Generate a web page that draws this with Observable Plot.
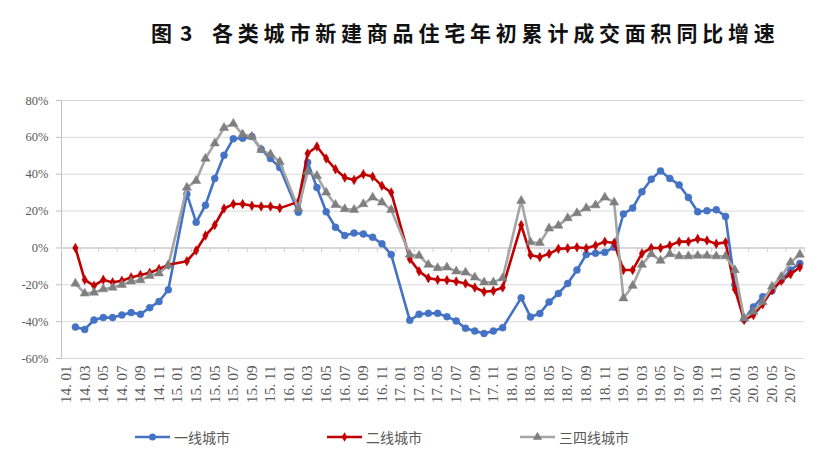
<!DOCTYPE html>
<html>
<head>
<meta charset="utf-8">
<script src="https://cdn.jsdelivr.net/npm/d3@7"></script>
<script src="https://cdn.jsdelivr.net/npm/@observablehq/plot@0.6"></script>
<style>
  html, body { margin: 0; padding: 0; background: #fff; }
  #wrap { position: relative; width: 827px; height: 471px; overflow: hidden; background: #fff; }
  .title { position: absolute; top: 17px; font-family: "Noto Sans CJK SC", sans-serif; font-weight: 700; font-size: 21px; color: #111; white-space: nowrap; line-height: 30px; }
  #chart { position: absolute; left: 0; top: 64px; }
  .leg { position: absolute; top: 425px; height: 24px; display: flex; align-items: center; font-family: "Noto Sans CJK SC", sans-serif; font-size: 14px; color: #595959; white-space: nowrap; }
  .leg svg { margin-right: 3px; }
</style>
</head>
<body>
<div id="wrap">
  <div class="title" style="left:151px;">图</div>
  <div class="title" style="left:180px;">3</div>
  <div class="title" style="left:212px; letter-spacing:4.8px;">各类城市新建商品住宅年初累计成交面积同比增速</div>
  <div id="chart"></div>
  <div id="legend"></div>
</div>
<script>
// Category labels (monthly, 14.01 – 20.08)
const months = [
  "14. 01","14. 02","14. 03","14. 04","14. 05","14. 06","14. 07","14. 08","14. 09","14. 10","14. 11","14. 12",
  "15. 01","15. 02","15. 03","15. 04","15. 05","15. 06","15. 07","15. 08","15. 09","15. 10","15. 11","15. 12",
  "16. 01","16. 02","16. 03","16. 04","16. 05","16. 06","16. 07","16. 08","16. 09","16. 10","16. 11","16. 12",
  "17. 01","17. 02","17. 03","17. 04","17. 05","17. 06","17. 07","17. 08","17. 09","17. 10","17. 11","17. 12",
  "18. 01","18. 02","18. 03","18. 04","18. 05","18. 06","18. 07","18. 08","18. 09","18. 10","18. 11","18. 12",
  "19. 01","19. 02","19. 03","19. 04","19. 05","19. 06","19. 07","19. 08","19. 09","19. 10","19. 11","19. 12",
  "20. 01","20. 02","20. 03","20. 04","20. 05","20. 06","20. 07","20. 08"
];

// 一线城市 (%), null = no data that month
const tier1 = [
  null,-42.9,-44.2,-39.1,-37.8,-37.8,-36.4,-35.1,-36.0,-32.4,-29.1,-22.7,
  null,29.2,13.9,23.2,37.7,50.3,59.3,59.5,60.4,53.5,48.5,43.6,
  null,19.3,46.5,32.8,19.6,11.2,6.7,8.1,7.6,5.8,2.2,-3.6,
  null,-39.3,-36.0,-35.5,-35.5,-37.3,-39.6,-43.6,-45.1,-46.4,-45.1,-43.3,
  null,-27.1,-37.5,-35.6,-29.3,-24.7,-19.3,-12.0,-3.6,-2.9,-2.4,0.4,
  18.4,21.6,30.5,37.3,41.8,37.7,34.2,27.4,19.6,20.2,20.7,17.1,
  -20.0,-38.7,-32.0,-26.5,-23.3,-17.5,-12.0,-8.4
];

// 二线城市 (%)
const tier2 = [
  null,0.0,-17.3,-20.5,-17.3,-18.7,-17.8,-16.0,-14.7,-13.5,-11.5,-9.1,
  null,-7.2,-1.4,6.7,12.4,21.4,23.8,23.8,22.9,22.5,22.5,21.6,
  null,25.0,51.2,55.0,48.5,42.7,38.2,36.9,40.0,38.7,33.7,30.1,
  null,-6.0,-12.7,-16.4,-17.3,-17.5,-18.2,-19.3,-21.5,-23.8,-23.3,-21.5,
  null,12.4,-3.8,-5.0,-3.2,-0.5,-0.2,0.4,-0.2,1.3,3.4,2.7,
  -12.0,-12.0,-3.0,0.0,0.0,1.3,3.4,3.4,4.9,4.0,2.2,3.1,
  -22.4,-39.1,-36.4,-30.5,-22.9,-17.8,-14.2,-10.5
];

// 三四线城市 (%)
const tier34 = [
  null,-19.3,-24.7,-24.2,-22.4,-21.5,-20.0,-18.2,-17.5,-15.1,-13.8,-9.6,
  null,32.8,36.4,48.5,56.8,65.2,67.4,61.6,60.4,53.2,50.8,46.7,
  null,21.4,41.3,39.1,30.1,23.4,21.1,20.7,23.8,27.4,24.7,20.7,
  null,-3.6,-4.2,-9.1,-10.9,-10.5,-12.7,-13.3,-16.0,-18.7,-18.7,-16.4,
  null,25.6,3.1,2.7,10.6,12.1,16.2,18.9,21.6,23.2,27.4,24.7,
  -27.3,-20.5,-9.1,-3.3,-6.9,-3.3,-4.5,-4.5,-4.2,-4.2,-4.5,-4.5,
  -12.0,-38.2,-34.5,-29.3,-20.9,-15.6,-7.8,-3.6
];

const seriesNames = ["一线城市", "二线城市", "三四线城市"];
const yTicks = [-60, -40, -20, 0, 20, 40, 60, 80];

const styles = [
  {name: seriesNames[0], values: tier1,  line: "#4472C4", mark: "#4472C4", symbol: "circle",   r: 3.5},
  {name: seriesNames[1], values: tier2,  line: "#C00000", mark: "#C00000", symbol: "diamond",  r: 2.9},
  {name: seriesNames[2], values: tier34, line: "#A5A5A5", mark: "#7F7F7F", symbol: "triangle", r: 3.4}
];

const n = months.length;
const xTickIdx = months.map((m, i) => i).filter(i => i % 2 === 0);
const boundaries = d3.range(0, n + 1, 2).map(i => i - 0.5);
const serif = "'Liberation Serif', 'DejaVu Serif', serif";

const marks = [
  Plot.gridY(yTicks, {stroke: "#d9d9d9", strokeOpacity: 1, strokeWidth: 1}),
  Plot.ruleX([-0.5], {stroke: "#bfbfbf", strokeWidth: 1}),
  Plot.axisY({ticks: yTicks, tickSize: 5, tickPadding: 8, tickFormat: d => d + "%",
    stroke: "#bfbfbf", fill: "#595959", fontSize: 12.5, fontFamily: serif, label: null}),
  Plot.ruleY([0], {stroke: "#d0d0d0", strokeWidth: 1.6}),
  Plot.ruleX(boundaries, {y1: 0, y2: -2.6, stroke: "#d0d0d0", strokeWidth: 1}),
  Plot.axisX({ticks: xTickIdx, tickFormat: i => months[i], tickSize: 0, tickPadding: 7, tickRotate: -90,
    anchor: "bottom", fill: "#595959", fontSize: 15, fontFamily: serif, label: null})
];

for (const s of styles) {
  const rows = [];
  s.values.forEach((v, i) => { if (v != null) rows.push({i, v, name: s.name}); });
  marks.push(Plot.line(rows, {x: "i", y: "v", stroke: s.line, strokeWidth: 2.6, strokeLinejoin: "round", curve: "linear"}));
  marks.push(Plot.dot(rows, {x: "i", y: "v", symbol: s.symbol, r: s.r, fill: s.mark, stroke: s.mark, strokeWidth: 0.5}));
}

const chart = Plot.plot({
  width: 827,
  height: 356,
  marginLeft: 61,
  marginRight: 23,
  marginTop: 36,
  marginBottom: 62,
  x: {type: "linear", domain: [-0.5, n - 0.5], axis: null},
  y: {domain: [-60, 80], axis: null},
  style: {background: "transparent", overflow: "visible"},
  marks
});
document.getElementById("chart").appendChild(chart);

// Legend
const legendPos = [135, 327, 520];
const legend = document.getElementById("legend");
styles.forEach((s, k) => {
  const div = document.createElement("div");
  div.className = "leg";
  div.style.left = legendPos[k] + "px";
  const svg = d3.create("svg").attr("width", 36).attr("height", 14);
  svg.append("line").attr("x1", 0).attr("x2", 35).attr("y1", 7).attr("y2", 7)
    .attr("stroke", s.line).attr("stroke-width", 2.6);
  const typ = {circle: d3.symbolCircle, diamond: d3.symbolDiamond, triangle: d3.symbolTriangle}[s.symbol];
  svg.append("path").attr("d", d3.symbol(typ, Math.PI * s.r * s.r)())
    .attr("transform", "translate(17.5,7)").attr("fill", s.mark);
  div.appendChild(svg.node());
  const span = document.createElement("span");
  span.textContent = s.name;
  div.appendChild(span);
  legend.appendChild(div);
});
</script>
</body>
</html>
